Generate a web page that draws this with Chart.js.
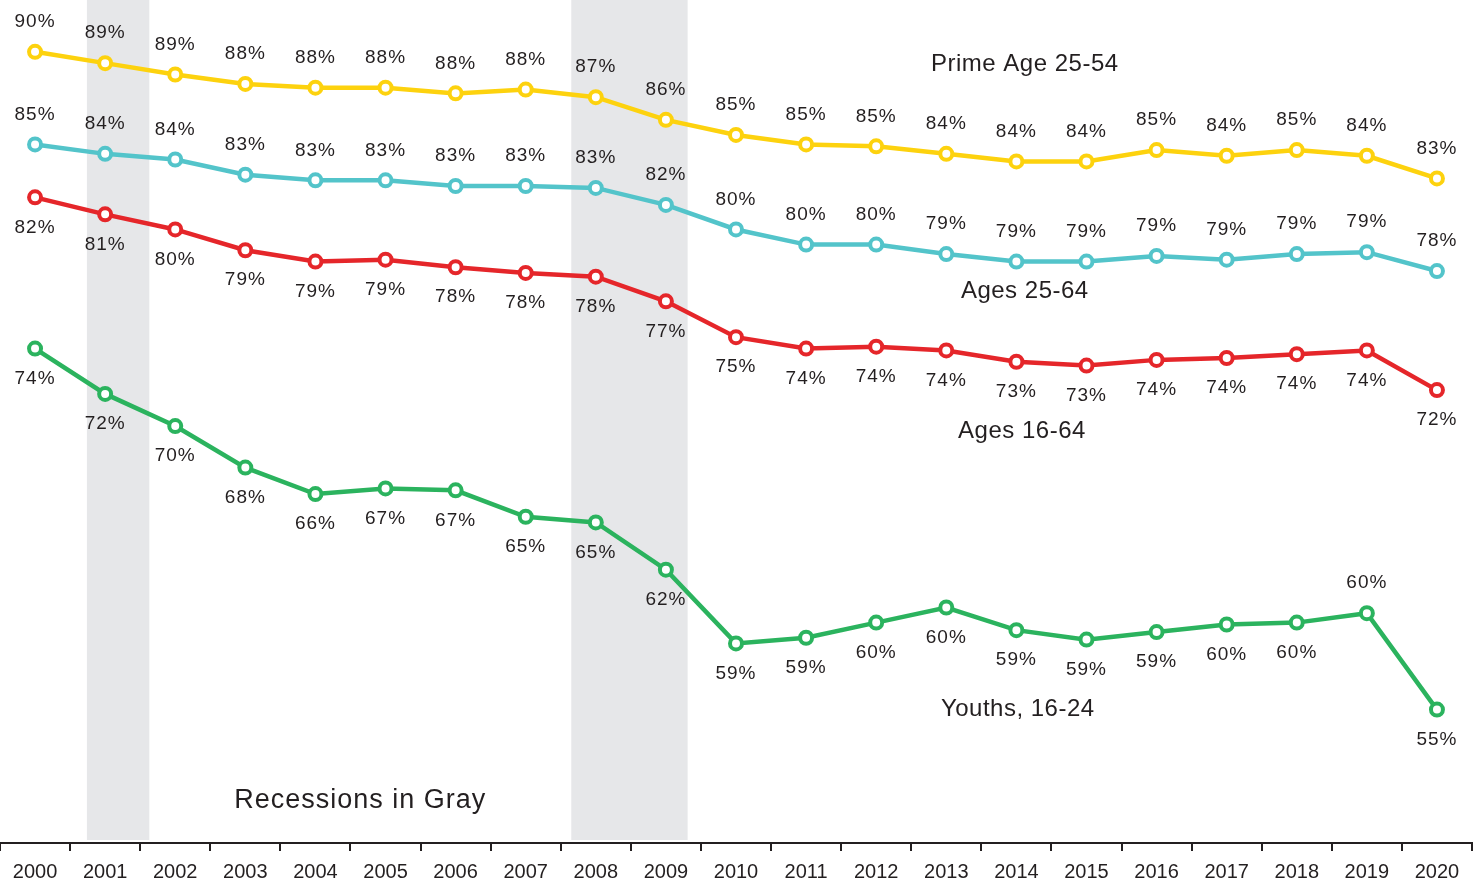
<!DOCTYPE html>
<html>
<head>
<meta charset="utf-8">
<title>Employment rates 2000-2020</title>
<script src="https://cdn.jsdelivr.net/npm/chart.js@4.4.1/dist/chart.umd.min.js"></script>
<style>
    html, body { margin: 0; padding: 0; background: #fff; }
    #wrap { width: 1480px; height: 889px; position: relative; }
</style>
</head>
<body>
<div id="wrap"><canvas id="grafico"></canvas></div>
<script>
// =========================
// DATA
// =========================

const years = ['2000', '2001', '2002', '2003', '2004', '2005', '2006', '2007', '2008', '2009', '2010',
    '2011', '2012', '2013', '2014', '2015', '2016', '2017', '2018', '2019', '2020'];

const primeAge = [89.8, 89.2, 88.6, 88.1, 87.9, 87.9, 87.6, 87.8, 87.4, 86.2, 85.4,
    84.9, 84.8, 84.4, 84.0, 84.0, 84.6, 84.3, 84.6, 84.3, 83.1];

const ages2564 = [84.9, 84.4, 84.1, 83.3, 83.0, 83.0, 82.7, 82.7, 82.6, 81.7, 80.4,
    79.6, 79.6, 79.1, 78.7, 78.7, 79.0, 78.8, 79.1, 79.2, 78.2];

const ages1664 = [82.1, 81.2, 80.4, 79.3, 78.7, 78.8, 78.4, 78.1, 77.9, 76.6, 74.7,
    74.1, 74.2, 74.0, 73.4, 73.2, 73.5, 73.6, 73.8, 74.0, 71.9];

const youths = [74.1, 71.7, 70.0, 67.8, 66.4, 66.7, 66.6, 65.2, 64.9, 62.4, 58.5,
    58.8, 59.6, 60.4, 59.2, 58.7, 59.1, 59.5, 59.6, 60.1, 55.0];

// recession periods, in fractional years on the category axis
const recessionStart = [2000.74, 2007.65];
const recessionEnd = [2001.63, 2009.31];

const TEXT = '#231f20';
const FONT = '"Liberation Sans", Arial, Helvetica, sans-serif';

// =========================
// PLUGINS
// =========================

const recessionBands = {
    id: 'recessionBands',
    beforeDraw(chart) {
        const { ctx, chartArea, scales: { x } } = chart;
        ctx.save();
        ctx.fillStyle = '#e6e7e9';
        recessionStart.forEach((ini, i) => {
            const x1 = x.getPixelForValue(ini - 2000);
            const x2 = x.getPixelForValue(recessionEnd[i] - 2000);
            ctx.fillRect(x1, chartArea.top, x2 - x1, chartArea.bottom - chartArea.top - 3);
        });
        ctx.restore();
    }
};

// series names, anchored in axis units
const seriesNames = [
    { text: 'Prime Age 25-54', at: 14.12, value: 89.15, size: 24 },
    { text: 'Ages 25-64', at: 14.12, value: 77.14, size: 24 },
    { text: 'Ages 16-64', at: 14.08, value: 69.74, size: 24 },
    { text: 'Youths, 16-24', at: 14.02, value: 55.03, size: 24 },
    { text: 'Recessions in Gray', at: 4.64, value: 50.17, size: 27 }
];

const pointLabels = {
    id: 'pointLabels',
    afterDatasetsDraw(chart) {
        const { ctx, scales: { x, y } } = chart;
        ctx.save();
        ctx.fillStyle = TEXT;
        ctx.textAlign = 'center';
        ctx.textBaseline = 'middle';
        ctx.font = '19px ' + FONT;
        ctx.letterSpacing = '1px';

        chart.data.datasets.forEach((ds, i) => {
            const meta = chart.getDatasetMeta(i);
            meta.data.forEach((pt, j) => {
                const side = (ds.labelFlip || []).includes(j) ? -ds.labelSide : ds.labelSide;
                ctx.fillText(Math.round(ds.data[j]) + '%', pt.x, pt.y + side * 30);
            });
        });

        seriesNames.forEach(s => {
            ctx.font = s.size + 'px ' + FONT;
            ctx.letterSpacing = s.size > 25 ? '1px' : '0.5px';
            ctx.fillText(s.text, x.getPixelForValue(s.at), y.getPixelForValue(s.value));
        });
        ctx.restore();
    }
};

// =========================
// CHART
// =========================

function serie(label, data, color, labelSide, labelFlip) {
    return {
        label,
        data,
        borderColor: color,
        backgroundColor: color,
        borderWidth: 4.5,
        tension: 0,
        clip: false,
        pointRadius: 6,
        pointBorderWidth: 4,
        pointBackgroundColor: '#fff',
        pointBorderColor: color,
        labelSide,
        labelFlip
    };
}

new Chart(document.getElementById('grafico'), {
    type: 'line',
    data: {
        labels: years,
        datasets: [
            serie('Prime Age 25-54', primeAge, '#fdd20e', -1),
            serie('Ages 25-64', ages2564, '#53c4ca', -1),
            serie('Ages 16-64', ages1664, '#e5262a', 1),
            serie('Youths, 16-24', youths, '#2bb35e', 1, [19])
        ]
    },
    options: {
        responsive: true,
        maintainAspectRatio: false,
        animation: false,
        layout: { autoPadding: false, padding: { left: 0, right: 8, top: 0, bottom: -4 } },
        plugins: {
            legend: { display: false },
            tooltip: { enabled: false }
        },
        scales: {
            x: {
                offset: true,
                border: { display: true, color: TEXT, width: 2 },
                grid: {
                    offset: true,
                    drawOnChartArea: false,
                    drawTicks: true,
                    tickLength: 8,
                    color: TEXT,
                    lineWidth: 2
                },
                ticks: {
                    color: TEXT,
                    padding: 9,
                    maxRotation: 0,
                    autoSkip: false,
                    font: { family: FONT, size: 20 }
                }
            },
            y: {
                display: false,
                min: 47.94,
                max: 92.54
            }
        }
    },
    plugins: [recessionBands, pointLabels]
});
</script>
</body>
</html>
